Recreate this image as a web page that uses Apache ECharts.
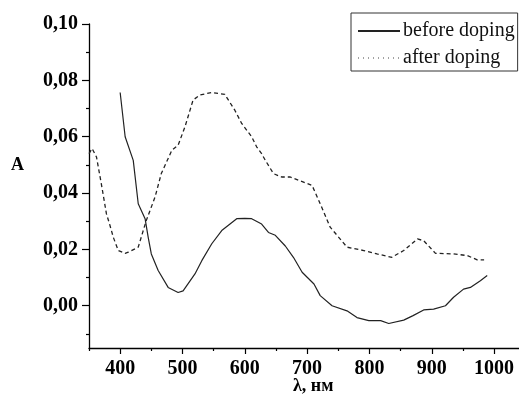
<!DOCTYPE html>
<html>
<head>
<meta charset="utf-8">
<script src="https://cdn.jsdelivr.net/npm/echarts@6/dist/echarts.min.js"></script>
<style>
html,body{margin:0;padding:0;background:#fff;}
#c{width:519px;height:396px;}
</style>
</head>
<body>
<div id="c"></div>
<script>
var beforeX = [400,408,421,429,440,445,450,461,477,493,501,520,531,547,563,587,600,611,627,638,649,665,678,692,711,721,740,764,780,799,818,831,855,870,887,903,922,935,951,962,978,989];
var beforeY = [0.0757,0.060,0.0516,0.0362,0.0309,0.0243,0.0184,0.0125,0.0065,0.0047,0.0053,0.0113,0.016,0.022,0.0267,0.0309,0.031,0.0309,0.029,0.026,0.025,0.0212,0.0172,0.0119,0.0077,0.0036,0.0,-0.0018,-0.0042,-0.0053,-0.0053,-0.0063,-0.0051,-0.0035,-0.0015,-0.0012,0.0,0.003,0.0059,0.0065,0.0089,0.0107];
var afterX = [350,355,362,370,378,383,389,397,408,413,429,442,456,466,483,493,504,517,528,547,568,584,595,611,619,627,633,646,659,673,708,721,737,764,791,812,836,855,877,887,906,935,957,973,984];
var afterY = [0.054,0.0558,0.0528,0.043,0.0326,0.029,0.0243,0.0196,0.0186,0.019,0.0208,0.0303,0.0386,0.0469,0.0552,0.057,0.0635,0.073,0.0748,0.0757,0.075,0.0694,0.0647,0.060,0.0564,0.054,0.0516,0.0469,0.0457,0.0457,0.0427,0.0362,0.0279,0.0208,0.0196,0.0184,0.0172,0.0196,0.0237,0.0231,0.0186,0.0184,0.0178,0.0163,0.0163];
var seriesNames = ['before doping', 'after doping'];
var xMajorTicks = [400,500,600,700,800,900,1000];
var xMinorTicks = [350,450,550,650,750,850,950];
var yMajorTicks = [0,0.02,0.04,0.06,0.08,0.10];
var yMinorTicks = [-0.01,0.01,0.03,0.05,0.07,0.09];
var xTitle = 'λ, нм';
var yTitle = 'A';

function pairs(xs, ys){ return xs.map(function(x,i){ return [x, ys[i]]; }); }

var serif = '"Liberation Serif", "Times New Roman", serif';
var chart = echarts.init(document.getElementById('c'), null, {renderer:'canvas'});
chart.setOption({
  animation:false,
  backgroundColor:'#fff',
  grid:{left:89, right:0, top:24, bottom:48, containLabel:false},
  legend:{
    orient:'vertical', left:351, top:13,
    padding:[8,3,3,6], itemGap:7, itemWidth:42, itemHeight:14,
    borderColor:'#333', borderWidth:1, borderRadius:0,
    textStyle:{fontFamily:serif, fontSize:20, color:'#111', padding:[0,0,0,-2]},
    data:[
      {name:seriesNames[0], itemStyle:{opacity:0, borderWidth:0}},
      {name:seriesNames[1], itemStyle:{opacity:0, borderWidth:0}, lineStyle:{type:[1,4], width:1.2, color:'#444'}}
    ]
  },
  xAxis:[{
    type:'value', min:350, max:1040, gridIndex:0, position:'bottom',
    axisLine:{show:true, onZero:false, lineStyle:{color:'#000', width:1.3}},
    axisTick:{show:true, inside:false, length:6, customValues:xMajorTicks, lineStyle:{color:'#000', width:1.2}},
    axisLabel:{show:true, customValues:xMajorTicks, margin:11, fontFamily:serif, fontWeight:'bold', fontSize:20, color:'#000',
      formatter:function(v){ return String(Math.round(v)); }},
    splitLine:{show:false}
  },{
    type:'value', min:350, max:1040, gridIndex:0, position:'bottom',
    axisLine:{show:false, onZero:false},
    axisTick:{show:true, inside:false, length:3, customValues:xMinorTicks, lineStyle:{color:'#000', width:1.2}},
    axisLabel:{show:false},
    splitLine:{show:false}
  }],
  yAxis:[{
    type:'value', min:-0.015, max:0.10, gridIndex:0, position:'left',
    axisLine:{show:true, onZero:false, lineStyle:{color:'#000', width:1.3}},
    axisTick:{show:true, inside:false, length:7, customValues:yMajorTicks, lineStyle:{color:'#000', width:1.2}},
    axisLabel:{show:true, customValues:yMajorTicks, margin:11, fontFamily:serif, fontWeight:'bold', fontSize:20, color:'#000',
      formatter:function(v){ return v.toFixed(2).replace('.', ','); }},
    splitLine:{show:false}
  },{
    type:'value', min:-0.015, max:0.10, gridIndex:0, position:'left',
    axisLine:{show:false, onZero:false},
    axisTick:{show:true, inside:false, length:3, customValues:yMinorTicks, lineStyle:{color:'#000', width:1.2}},
    axisLabel:{show:false},
    splitLine:{show:false}
  }],
  graphic:[
    {type:'text', left:11, top:156, style:{text:yTitle, font:'bold 18px ' + serif, fill:'#000'}},
    {type:'text', left:293, top:377, style:{text:xTitle, font:'bold 18px ' + serif, fill:'#000'}}
  ],
  series:[{
    name:seriesNames[0], type:'line', xAxisIndex:0, yAxisIndex:0,
    data:pairs(beforeX, beforeY), showSymbol:false, symbol:'none', smooth:false,
    lineStyle:{color:'#222', width:1.2, type:'solid'}, itemStyle:{color:'#222'}
  },{
    name:seriesNames[1], type:'line', xAxisIndex:0, yAxisIndex:0,
    data:pairs(afterX, afterY), showSymbol:false, symbol:'none', smooth:false,
    lineStyle:{color:'#222', width:1.3, type:[4,3]}, itemStyle:{color:'#222'}
  }]
});
</script>
</body>
</html>
